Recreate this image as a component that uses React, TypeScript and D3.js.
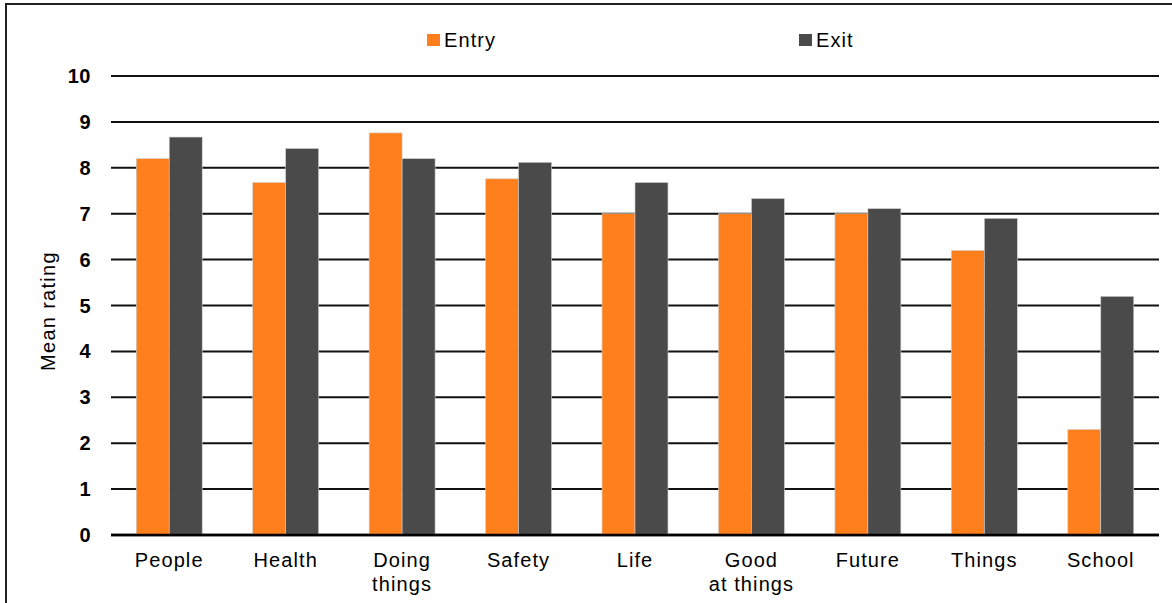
import React from "react";
import * as d3 from "d3";

const categories: string[][] = [
  ["People"],
  ["Health"],
  ["Doing", "things"],
  ["Safety"],
  ["Life"],
  ["Good", "at things"],
  ["Future"],
  ["Things"],
  ["School"],
];
const entryValues = [8.2, 7.68, 8.76, 7.76, 7.0, 7.0, 7.0, 6.2, 2.3];
const exitValues = [8.67, 8.42, 8.2, 8.12, 7.68, 7.33, 7.11, 6.9, 5.2];
const seriesNames = ["Entry", "Exit"];
const seriesColors = ["#FF7F1C", "#4A4A4A"];
const yTicks = [0, 1, 2, 3, 4, 5, 6, 7, 8, 9, 10];

const W = 1172;
const H = 603;
const left = 111;
const right = 1159;
const top = 76;
const bottom = 535;
const FONT = "'Liberation Sans', Arial, sans-serif";

export default function App() {
  const keys = categories.map((c) => c.join(" "));
  const x0 = d3
    .scaleBand<string>()
    .domain(keys)
    .range([left, right])
    .paddingInner(0.4336)
    .paddingOuter(0.2168);
  const x1 = d3
    .scaleBand<string>()
    .domain(seriesNames)
    .range([0, x0.bandwidth()])
    .padding(0);
  const y = d3.scaleLinear().domain([0, 10]).range([bottom, top]);
  const series = [entryValues, exitValues];

  return (
    <svg
      width={W}
      height={H}
      style={{ position: "absolute", left: 0, top: 0, background: "#fff" }}
      fontFamily={FONT}
    >
      <rect x={0} y={0} width={W} height={H} fill="#fff" />
      <rect x={6} y={4} width={1300} height={800} fill="none" stroke="#222" strokeWidth={2} />

      {/* gridlines */}
      {yTicks.map((t) => (
        <line
          key={t}
          x1={left}
          x2={right}
          y1={y(t)}
          y2={y(t)}
          stroke="#111"
          strokeWidth={t === 0 ? 2.5 : 2}
        />
      ))}

      {/* bars */}
      {keys.map((k, i) => (
        <g key={k} transform={`translate(${x0(k)},0)`}>
          {seriesNames.map((s, si) => (
            <rect
              key={s}
              x={x1(s)}
              y={y(series[si][i])}
              width={x1.bandwidth()}
              height={y(0) - y(series[si][i])}
              fill={seriesColors[si]}
              stroke="#d0d0d0"
              strokeWidth={0.6}
            />
          ))}
        </g>
      ))}
      <line x1={left} x2={right} y1={y(0)} y2={y(0)} stroke="#000" strokeWidth={2.5} />

      {/* y tick labels */}
      {yTicks.map((t) => (
        <text
          key={t}
          x={91}
          y={y(t)}
          dy="0.35em"
          textAnchor="end"
          fontSize={20}
          fontWeight="bold"
          letterSpacing={0.5}
          fill="#000"
        >
          {t}
        </text>
      ))}

      {/* x labels */}
      {categories.map((lines, i) => {
        const cx = (x0(keys[i]) as number) + x0.bandwidth() / 2;
        return (
          <text key={keys[i]} x={cx} y={567} textAnchor="middle" fontSize={20} letterSpacing={1.1} fill="#000">
            {lines.map((ln, li) => (
              <tspan key={li} x={cx} dy={li === 0 ? 0 : 24}>
                {ln}
              </tspan>
            ))}
          </text>
        );
      })}

      {/* y title */}
      <text
        transform="translate(55,311) rotate(-90)"
        textAnchor="middle"
        fontSize={20}
        letterSpacing={1.3}
        fill="#000"
      >
        Mean rating
      </text>

      {/* legend */}
      {seriesNames.map((s, si) => {
        const lx = si === 0 ? 427 : 799;
        return (
          <g key={s}>
            <rect x={lx} y={34} width={13} height={12} fill={seriesColors[si]} />
            <text x={lx + 17} y={47} fontSize={20} letterSpacing={1.1} fill="#000">
              {s}
            </text>
          </g>
        );
      })}
    </svg>
  );
}
